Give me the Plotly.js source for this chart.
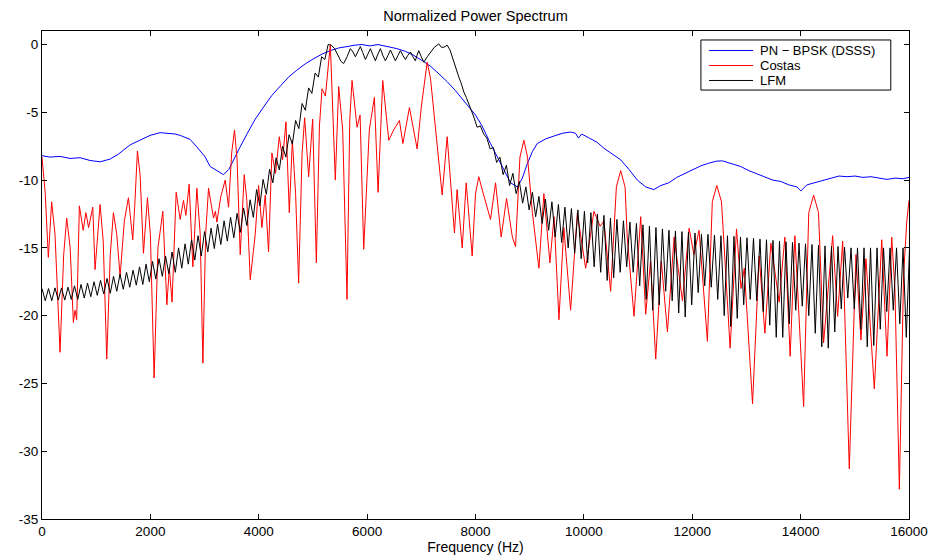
<!DOCTYPE html>
<html>
<head>
<meta charset="utf-8">
<script src="https://cdn.plot.ly/plotly-3.0.1.min.js"></script>
<style>html,body{margin:0;padding:0;background:#fff;}#chart{width:935px;height:559px;}</style>
</head>
<body>
<div id="chart"></div>
<script>
// Tick values
const xTicks = [0, 2000, 4000, 6000, 8000, 10000, 12000, 14000, 16000];
const yTicks = [0, -5, -10, -15, -20, -25, -30, -35];

// Series names (legend order)
const seriesNames = ['PN \u2212 BPSK (DSSS)', 'Costas', 'LFM'];

// PN - BPSK (DSSS) series
const pnFreq = [0,148,333,517,702,887,1072,1256,1404,1534,1626,1811,1995,2180,2328,2457,2550,2734,2858,3012,3104,3252,3350,3450,3535,3650,3782,3935,4090,4243,4400,4551,4700,4859,5010,5168,5320,5475,5630,5760,5906,6050,6200,6399,6550,6707,6860,7015,7170,7322,7480,7630,7760,7877,8000,8120,8277,8400,8530,8647,8770,8860,8955,9050,9140,9300,9441,9600,9755,9848,9900,9960,10100,10240,10370,10520,10679,10830,10987,11140,11290,11420,11566,11714,11862,12009,12157,12305,12453,12558,12748,12896,13044,13192,13340,13488,13635,13783,13931,14005,14116,14263,14411,14559,14707,14855,15003,15150,15298,15446,15594,15742,15890,16000];
const pnDb = [-8.2,-8.3,-8.25,-8.4,-8.35,-8.55,-8.65,-8.45,-8.1,-7.7,-7.4,-7.05,-6.7,-6.5,-6.55,-6.6,-6.7,-7.0,-7.55,-8.3,-9.0,-9.35,-9.6,-9.2,-8.5,-7.6,-6.6,-5.5,-4.6,-3.75,-3.05,-2.4,-1.9,-1.42,-1.05,-0.7,-0.45,-0.25,-0.15,-0.05,0.0,-0.1,0.0,-0.15,-0.3,-0.5,-0.8,-1.18,-1.6,-2.15,-2.75,-3.4,-4.0,-4.6,-5.2,-6.0,-7.3,-8.3,-9.3,-10.2,-10.5,-9.9,-8.8,-7.9,-7.3,-6.95,-6.76,-6.55,-6.45,-6.55,-6.9,-6.6,-6.9,-7.2,-7.65,-8.05,-8.5,-9.2,-10.0,-10.5,-10.7,-10.4,-10.2,-9.8,-9.5,-9.2,-8.95,-8.75,-8.6,-8.58,-8.8,-9.0,-9.3,-9.55,-9.8,-10.0,-10.1,-10.35,-10.5,-10.8,-10.35,-10.2,-10.05,-9.85,-9.7,-9.75,-9.7,-9.8,-9.75,-9.85,-9.95,-9.85,-9.9,-9.8];

// Costas series
const costasFreq = [0,60,117,178,240,333,400,456,520,579,610,640,690,760,810,860,937,979,1072,1130,1195,1260,1318,1380,1441,1520,1595,1640,1675,1710,1761,1810,1872,1946,2000,2069,2140,2230,2304,2350,2400,2476,2550,2611,2655,2716,2784,2858,2920,2969,3020,3073,3165,3200,3227,3300,3381,3443,3500,3553,3600,3658,3732,3780,3843,3935,3997,4058,4120,4181,4243,4310,4379,4440,4502,4564,4620,4680,4736,4800,4847,4921,4995,5063,5120,5168,5230,5321,5413,5475,5549,5629,5680,5722,5814,5870,5937,6040,6134,6202,6288,6399,6490,6596,6660,6781,6923,7000,7050,7108,7170,7262,7385,7477,7612,7660,7755,7828,7939,8000,8061,8130,8277,8370,8474,8573,8680,8739,8820,8893,8960,9050,9170,9262,9373,9450,9540,9630,9755,9879,10033,10186,10300,10370,10494,10600,10679,10760,10800,10925,11049,11141,11230,11326,11430,11542,11665,11819,11942,12030,12126,12280,12370,12453,12540,12699,12817,12900,12960,13113,13235,13340,13451,13604,13709,13807,13894,14055,14150,14240,14330,14424,14591,14683,14776,14898,15021,15113,15206,15360,15497,15594,15681,15740,15822,15900,15960,16000];
const costasDb = [-8.3,-11.0,-15.7,-11.6,-14.0,-22.7,-15.5,-12.8,-15.0,-20.5,-19.6,-20.3,-11.9,-13.7,-12.4,-13.5,-12.0,-16.6,-11.8,-14.5,-23.2,-15.5,-12.4,-14.0,-17.1,-13.0,-11.3,-13.0,-14.4,-12.0,-7.85,-9.6,-15.4,-11.3,-14.0,-24.6,-15.0,-12.3,-19.2,-16.5,-19.0,-10.9,-12.9,-11.5,-12.6,-10.3,-16.4,-10.6,-14.0,-23.5,-14.0,-10.6,-12.8,-12.3,-13.1,-11.2,-10.0,-12.0,-8.0,-6.3,-8.5,-15.5,-9.6,-11.5,-17.35,-14.0,-10.4,-13.5,-11.1,-15.3,-8.0,-9.5,-6.8,-8.5,-5.7,-12.4,-7.06,-11.0,-17.6,-8.0,-5.4,-9.75,-5.5,-16.1,-6.0,-3.26,-3.8,0.0,-10.0,-3.1,-6.3,-18.8,-5.5,-2.65,-6.1,-5.2,-15.1,-6.3,-3.9,-10.9,-2.65,-7.06,-6.3,-5.6,-7.3,-4.65,-7.7,-4.6,-3.0,-1.3,-2.5,-6.1,-11.1,-6.8,-13.9,-10.7,-15.0,-10.2,-15.6,-11.0,-9.75,-10.8,-12.9,-10.2,-14.2,-11.35,-14.2,-14.9,-8.3,-7.06,-8.3,-12.4,-16.5,-11.0,-16.1,-12.7,-20.3,-13.5,-19.6,-12.45,-16.5,-12.3,-13.4,-13.0,-18.2,-10.5,-9.3,-10.5,-14.2,-20.05,-12.7,-19.9,-16.0,-23.2,-16.0,-21.2,-14.2,-18.9,-13.55,-15.5,-13.7,-21.9,-11.6,-10.4,-11.6,-22.4,-13.6,-18.0,-16.5,-26.5,-15.6,-21.3,-14.65,-19.0,-14.2,-23.0,-14.1,-26.7,-12.4,-11.1,-12.4,-22.0,-14.1,-20.05,-14.5,-31.3,-15.5,-21.8,-15.8,-25.4,-14.4,-23.0,-14.2,-18.0,-32.8,-17.0,-13.0,-11.5];

// LFM series, low-frequency part (sampled every 60 Hz from 0 Hz)
const lfmLowDb = [-18.0,-18.9,-18.0,-18.9,-17.95,-18.85,-17.95,-18.85,-17.9,-18.8,-17.8,-18.8,-17.7,-18.7,-17.6,-18.6,-17.5,-18.5,-17.4,-18.4,-17.25,-18.35,-17.1,-18.2,-16.95,-18.05,-16.8,-17.9,-16.65,-17.75,-16.4,-17.7,-16.2,-17.5,-16.0,-17.3,-15.8,-17.1,-15.6,-16.9,-15.3,-16.8,-15.0,-16.5,-14.7,-16.2,-14.4,-15.9,-14.1,-15.6,-13.8,-15.3,-13.55,-15.05,-13.25,-14.75,-13.0,-14.5,-12.75,-14.25,-12.45,-13.85,-12.05,-13.35,-11.45,-12.75,-10.7,-11.9,-9.95,-11.05,-9.2,-10.2,-8.35,-9.25,-7.5,-8.3,-6.65,-7.35,-5.6,-6.2,-4.35,-4.85,-3.2,-3.6,-2.1,-2.4,-0.9,-1.1,0.0];
// LFM series, passband part
const lfmMidFreq = [5280,5340,5400,5460,5520,5567,5630,5690,5740,5783,5830,5875,5920,5968,6015,6060,6105,6152,6200,6245,6290,6337,6385,6430,6475,6522,6570,6614,6660,6706,6750,6800,6845,6890,6920,6953,7000,7046,7110,7170,7240,7322,7370,7414,7445,7477,7530,7570,7630,7692,7740,7784,7830,7877,7920,7970];
const lfmMidDb = [0.0,-0.05,-0.3,-0.8,-1.25,-1.4,-0.9,-0.3,-0.55,-0.9,-0.5,-0.15,-0.6,-1.1,-0.7,-0.3,-0.75,-1.2,-0.7,-0.3,-0.8,-1.2,-0.8,-0.4,-0.8,-1.2,-0.8,-0.45,-0.8,-1.1,-0.8,-0.55,-0.9,-1.2,-0.8,-0.45,-0.9,-1.3,-0.9,-0.55,-0.2,0.05,-0.2,-0.2,-0.1,-0.05,-0.4,-0.93,-1.6,-2.4,-2.9,-3.5,-3.9,-4.36,-4.8,-5.35];
// LFM series, high-frequency part (sampled every 60 Hz from 7970 Hz)
const lfmHighDb = [-5.35,-6.1,-6.0,-6.6,-6.9,-7.7,-7.6,-8.7,-8.3,-9.6,-8.9,-10.4,-9.5,-11.0,-10.1,-11.7,-10.5,-12.2,-10.9,-12.7,-11.2,-13.2,-11.4,-13.7,-11.6,-14.2,-11.8,-14.6,-12.0,-15.0,-12.1,-15.4,-12.2,-15.8,-12.3,-16.1,-12.4,-16.4,-12.5,-16.8,-12.6,-17.4,-12.8,-17.2,-12.9,-16.8,-13.0,-16.4,-13.1,-16.8,-13.2,-17.8,-13.3,-18.8,-13.4,-19.6,-13.5,-19.2,-13.6,-18.2,-13.7,-18.9,-13.75,-19.8,-13.8,-20.1,-13.85,-19.2,-13.9,-18.3,-14.0,-17.8,-14.0,-17.9,-14.05,-18.8,-14.1,-20.0,-14.1,-20.8,-14.15,-20.2,-14.2,-19.2,-14.25,-18.8,-14.3,-18.9,-14.35,-19.7,-14.4,-20.7,-14.45,-21.6,-14.5,-21.6,-14.55,-20.6,-14.6,-19.6,-14.65,-19.3,-14.7,-20.0,-14.75,-21.3,-14.8,-22.3,-14.85,-22.4,-14.9,-21.2,-14.9,-19.5,-14.95,-18.7,-15.0,-19.5,-15.0,-21.0,-15.0,-22.3,-15.0,-22.2,-15.0,-21.0,-15.0,-19.7,-15.0,-19.6,-15.0,-20.6,-15.0,-21.6,-15.0,-21.0];

const seriesColors = ['#0000ff', '#ff0000', '#000000'];
const FONT = 'Liberation Sans, Arial, Helvetica, sans-serif';

const traces = [
  {type:'scatter', mode:'lines', name:seriesNames[0], x:pnFreq, y:pnDb,
   line:{color:seriesColors[0], width:1}},
  {type:'scatter', mode:'lines', name:seriesNames[1], x:costasFreq, y:costasDb,
   line:{color:seriesColors[1], width:1}},
  {type:'scatter', mode:'lines', name:seriesNames[2], x0:0, dx:60, y:lfmLowDb, legendgroup:'lfm',
   line:{color:seriesColors[2], width:1}},
  {type:'scatter', mode:'lines', name:seriesNames[2], x:lfmMidFreq, y:lfmMidDb, legendgroup:'lfm',
   line:{color:seriesColors[2], width:1}},
  {type:'scatter', mode:'lines', name:seriesNames[2], x0:7970, dx:60, y:lfmHighDb, legendgroup:'lfm',
   line:{color:seriesColors[2], width:1}}
];

// MATLAB-style legend box (compact rows), drawn in paper coordinates
const legBox = {x0:0.760, x1:0.979, y0:0.879, y1:0.9816};
const legRowsY = [0.9600, 0.9293, 0.8986];
const legLineX = [0.7693, 0.8201];
const legTextX = 0.8275;

const shapes = [
  {type:'rect', xref:'paper', yref:'paper', x0:legBox.x0, x1:legBox.x1, y0:legBox.y0, y1:legBox.y1,
   line:{color:'#000', width:1}, fillcolor:'#fff', layer:'above'}
];
const annotations = [];
seriesNames.forEach((nm, k) => {
  shapes.push({type:'line', xref:'paper', yref:'paper', x0:legLineX[0], x1:legLineX[1],
               y0:legRowsY[k], y1:legRowsY[k], line:{color:seriesColors[k], width:1}, layer:'above'});
  annotations.push({xref:'paper', yref:'paper', x:legTextX, y:legRowsY[k], xanchor:'left', yanchor:'middle',
               text:nm, showarrow:false, borderpad:0, font:{family:FONT, size:13, color:'#000'}});
});

const axisCommon = {
  showgrid:false, zeroline:false, showline:true, linecolor:'#000', linewidth:1,
  mirror:'ticks', ticks:'inside', ticklen:5, tickcolor:'#000', tickwidth:1,
  tickfont:{family:FONT, size:13.5, color:'#000'}
};

const layout = {
  width:935, height:559,
  margin:{l:42, r:26, t:31, b:40},
  paper_bgcolor:'#fff', plot_bgcolor:'#fff',
  showlegend:false,
  title:{text:'Normalized Power Spectrum', font:{family:FONT, size:14.5, color:'#000'},
         x:0.5, xref:'paper', xanchor:'center', y:1-16/559, yanchor:'middle'},
  xaxis:Object.assign({}, axisCommon, {
    range:[0,16000], tickvals:xTicks, ticktext:xTicks.map(String),
    title:{text:'Frequency (Hz)', font:{family:FONT, size:14, color:'#000'}, standoff:0}
  }),
  yaxis:Object.assign({}, axisCommon, {
    range:[-35,1], tickvals:yTicks, ticktext:yTicks.map(String)
  }),
  shapes:shapes,
  annotations:annotations
};

Plotly.newPlot('chart', traces, layout, {displayModeBar:false, staticPlot:true});
</script>
</body>
</html>
